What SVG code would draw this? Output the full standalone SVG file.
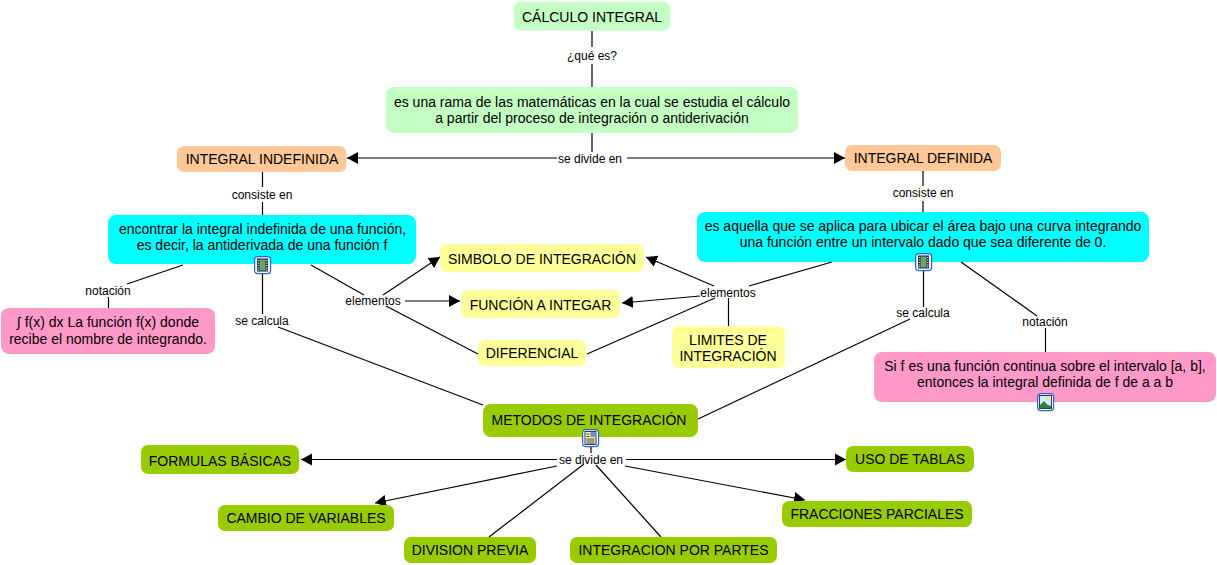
<svg xmlns="http://www.w3.org/2000/svg" width="1217" height="565" viewBox="0 0 1217 565">
<style>
text{font-family:"Liberation Sans",Arial,sans-serif;fill:#000;text-anchor:middle}
.n text{font-size:14px}
.l{font-size:12px}
.c line{stroke:#000;stroke-width:1.2;fill:none}
.a{marker-end:url(#arr)}
.g1{fill:#C4FFC4}.or{fill:#FFC896}.cy{fill:#00FFFF}.pk{fill:#FF99C8}.ye{fill:#FFFF99}.ol{fill:#99CC00}
</style>
<defs>
<marker id="arr" markerUnits="userSpaceOnUse" markerWidth="12" markerHeight="13" refX="11" refY="6.500" orient="auto"><path d="M0,0.5L11,6.500L0,12.500z" fill="#000"/></marker>
<g id="frame"><rect x="0.6" y="0.6" width="16" height="17" rx="3" fill="#F2F6FF" stroke="#2F66C8" stroke-width="1.2"/></g>
<g id="film"><use href="#frame"/><rect x="3" y="2.500" width="11" height="13" fill="#1A2A4A"/><rect x="5.500" y="3.500" width="6" height="11" fill="#6FA468"/><path d="M3.500,4.500h1.500M3.500,7h1.500M3.500,9.500h1.500M3.500,12h1.500M3.500,14h1.500M12,4.500h1.500M12,7h1.500M12,9.500h1.500M12,12h1.500M12,14h1.500" stroke="#dde" stroke-width="1"/></g>
<g id="pic"><use href="#frame"/><rect x="2.500" y="2.500" width="12" height="13" fill="#D6ECF5" stroke="#1A2A4A" stroke-width="0.9"/><circle cx="11" cy="5.500" r="1.800" fill="#F0E070"/><path d="M3,15L3,12L7,8L10,11.500L14,13L14,15z" fill="#2E7D3A"/></g>
<g id="doc"><use href="#frame"/><rect x="3" y="2.500" width="11" height="13" fill="#FFF4B0" stroke="#1A2A4A" stroke-width="0.9"/><rect x="8.500" y="3" width="5" height="5" fill="#6C8FC0"/><path d="M4.500,5h3M4.500,7.500h3M4.500,10h8M4.500,12h8M4.500,14h8" stroke="#1A2A4A" stroke-width="0.9"/></g>
</defs>
<rect width="1217" height="565" fill="#fff"/>
<g id="connectors" class="c">
<line x1="592" y1="31" x2="592" y2="47"/>
<line x1="592" y1="64" x2="592" y2="87"/>
<line x1="592" y1="133" x2="592" y2="152"/>
<line class="a" x1="557" y1="158" x2="347" y2="158"/>
<line class="a" x1="627" y1="158" x2="845" y2="158"/>
<line x1="262.500" y1="172" x2="262.500" y2="187"/>
<line x1="262.500" y1="202" x2="262.500" y2="215"/>
<line x1="923" y1="171" x2="923" y2="186"/>
<line x1="923" y1="201" x2="923" y2="212"/>
<line x1="183" y1="265" x2="127" y2="284"/>
<line x1="108.500" y1="297" x2="108.500" y2="308"/>
<line x1="262.500" y1="274" x2="262.500" y2="314"/>
<line x1="278" y1="327" x2="483" y2="405"/>
<line x1="311" y1="265" x2="364" y2="295"/>
<line class="a" x1="383" y1="295" x2="440" y2="257"/>
<line class="a" x1="405" y1="301" x2="460" y2="301"/>
<line x1="386" y1="306" x2="478" y2="354"/>
<line x1="587" y1="354" x2="715" y2="298"/>
<line x1="832" y1="262" x2="749" y2="286"/>
<line class="a" x1="714" y1="286" x2="646" y2="257"/>
<line class="a" x1="700" y1="296" x2="622" y2="303"/>
<line x1="728.500" y1="298" x2="728.500" y2="326"/>
<line x1="923.500" y1="271" x2="923.500" y2="307"/>
<line x1="910" y1="319" x2="698" y2="419"/>
<line x1="961" y1="262" x2="1037" y2="316"/>
<line x1="1045.500" y1="328" x2="1045.500" y2="352"/>
<line x1="591" y1="447" x2="591" y2="453"/>
<line class="a" x1="557" y1="459.500" x2="301" y2="459.500"/>
<line class="a" x1="626" y1="459.500" x2="846" y2="459.500"/>
<line class="a" x1="557" y1="466" x2="375" y2="503"/>
<line x1="584" y1="464" x2="489" y2="537"/>
<line x1="596" y1="465" x2="661" y2="537"/>
<line class="a" x1="625" y1="466" x2="805" y2="500"/>
</g>
<g id="linking-phrases">
<text class="l" x="592" y="60">¿qué es?</text>
<text class="l" x="590" y="163">se divide en</text>
<text class="l" x="262" y="199">consiste en</text>
<text class="l" x="923" y="197">consiste en</text>
<text class="l" x="108" y="295">notación</text>
<text class="l" x="262" y="325">se calcula</text>
<text class="l" x="373" y="305">elementos</text>
<text class="l" x="728" y="297">elementos</text>
<text class="l" x="923" y="317">se calcula</text>
<text class="l" x="1045" y="326">notación</text>
<text class="l" x="591" y="464">se divide en</text>
</g>
<g class="n">
<g id="calculo"><rect class="g1" x="514" y="2" width="156" height="28.500" rx="6"/><text x="592" y="22">CÁLCULO INTEGRAL</text></g>
<g id="rama"><rect class="g1" x="386" y="87" width="412" height="46" rx="8"/><text x="592" y="107">es una rama de las matemáticas en la cual se estudia el cálculo</text><text x="592" y="123">a partir del proceso de integración o antiderivación</text></g>
<g id="indefinida"><rect class="or" x="177" y="146" width="169.500" height="26" rx="7"/><text x="262" y="164">INTEGRAL INDEFINIDA</text></g>
<g id="definida"><rect class="or" x="845" y="145" width="156" height="26" rx="7"/><text x="923" y="163">INTEGRAL DEFINIDA</text></g>
<g id="encontrar"><rect class="cy" x="108" y="215" width="308" height="49" rx="8"/><text x="262.500" y="234">encontrar la integral indefinida de una función,</text><text x="262" y="250">es decir, la antiderivada de una función f</text><use href="#film" x="254" y="256"/></g>
<g id="aquella"><rect class="cy" x="697" y="212" width="452" height="50" rx="8"/><text x="923" y="231">es aquella que se aplica para ubicar el área bajo una curva integrando</text><text x="923" y="247">una función entre un intervalo dado que sea diferente de 0.</text><use href="#film" x="915" y="253"/></g>
<g id="notacion-izq"><rect class="pk" x="1" y="308" width="214" height="46" rx="8"/><text x="108" y="327">∫  f(x) dx La función f(x) donde</text><text x="108" y="344">recibe el nombre de integrando.</text></g>
<g id="notacion-der"><rect class="pk" x="874" y="352" width="342" height="50" rx="8"/><text x="1045" y="371">Si f es una función continua sobre el intervalo [a, b],</text><text x="1045" y="387">entonces la integral definida de f de a a b</text><use href="#pic" x="1037" y="393"/></g>
<g id="simbolo"><rect class="ye" x="440" y="244" width="204" height="28" rx="7"/><text x="542" y="264">SIMBOLO DE INTEGRACIÓN</text></g>
<g id="funcion"><rect class="ye" x="461" y="290" width="159" height="28" rx="7"/><text x="540.500" y="310">FUNCIÓN A INTEGAR</text></g>
<g id="diferencial"><rect class="ye" x="478" y="340" width="108" height="26" rx="7"/><text x="532" y="358">DIFERENCIAL</text></g>
<g id="limites"><rect class="ye" x="672" y="326" width="113" height="42" rx="7"/><text x="728" y="345">LIMITES DE</text><text x="728" y="361">INTEGRACIÓN</text></g>
<g id="metodos"><rect class="ol" x="483" y="404" width="215" height="33" rx="8"/><text x="589" y="425">METODOS DE INTEGRACIÓN</text><use href="#doc" x="582" y="429"/></g>
<g id="formulas"><rect class="ol" x="141" y="445" width="158" height="29" rx="7"/><text x="220" y="466">FORMULAS BÁSICAS</text></g>
<g id="cambio"><rect class="ol" x="218" y="505" width="176" height="26" rx="7"/><text x="306" y="523">CAMBIO DE VARIABLES</text></g>
<g id="division"><rect class="ol" x="404" y="537" width="132" height="26" rx="7"/><text x="470" y="555">DIVISION PREVIA</text></g>
<g id="partes"><rect class="ol" x="570" y="537" width="207" height="26" rx="7"/><text x="673.500" y="555">INTEGRACION POR PARTES</text></g>
<g id="tablas"><rect class="ol" x="846" y="446" width="128" height="26" rx="7"/><text x="910" y="464">USO DE TABLAS</text></g>
<g id="fracciones"><rect class="ol" x="782" y="501" width="190" height="26" rx="7"/><text x="877" y="519">FRACCIONES PARCIALES</text></g>
</g>
</svg>
